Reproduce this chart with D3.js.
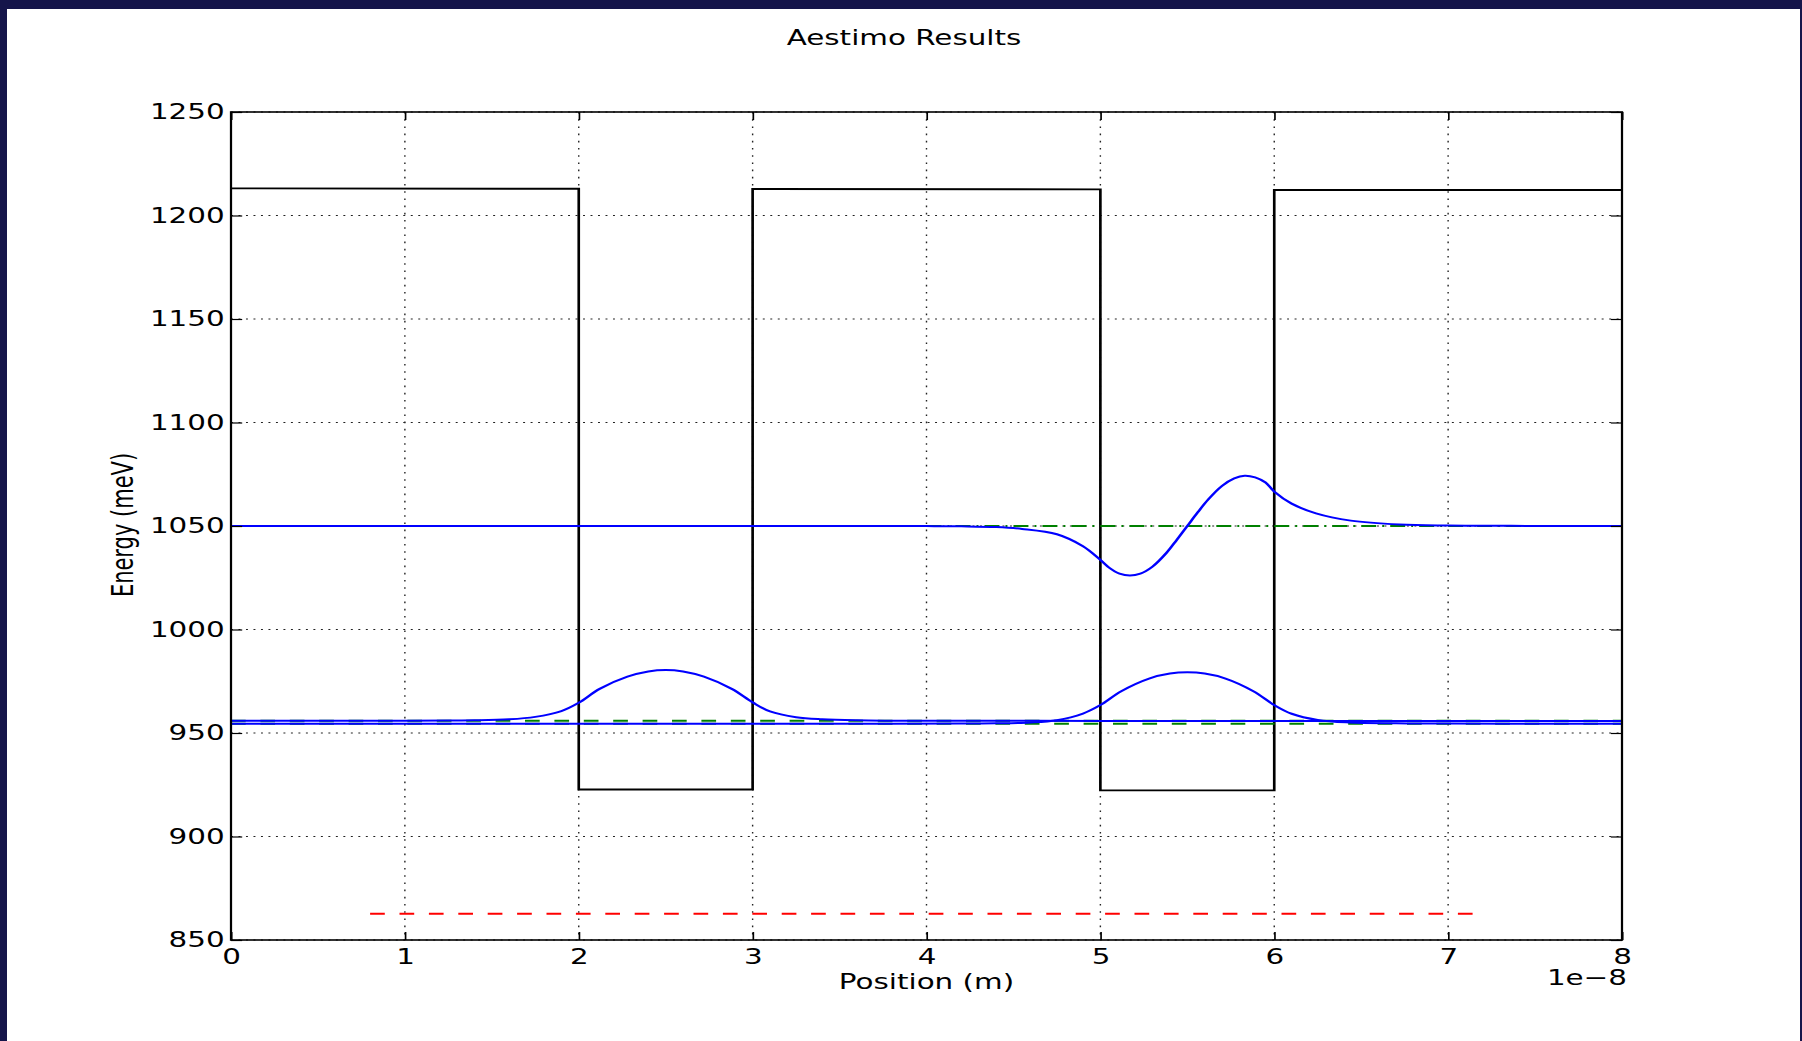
<!DOCTYPE html>
<html>
<head>
<meta charset="utf-8">
<script src="https://cdn.jsdelivr.net/npm/d3@7"></script>
<style>
html, body { margin: 0; padding: 0; background: #fff; overflow: hidden; }
text { font-family: "DejaVu Sans", sans-serif; }
</style>
</head>
<body>
<svg id="chart"></svg>
<script>
// x in units of 1e-8 m, energies in meV
const xTicks = [0, 1, 2, 3, 4, 5, 6, 7, 8];
const yTicks = [850, 900, 950, 1000, 1050, 1100, 1150, 1200, 1250];

const potentialX = [0, 2, 2, 3, 3, 5, 5, 6, 6, 8];
const potentialE = [1213.1, 1212.9, 922.7, 922.7, 1212.8, 1212.6, 922.3, 922.3, 1212.4, 1212.3];

const levels = [955.9, 954.5, 1050.0];

const stateAx = [0, 0.5, 1.0, 1.25, 1.4, 1.6, 1.75, 1.9, 2.0, 2.12, 2.28, 2.4, 2.5, 2.6, 2.72, 2.88, 3.0, 3.1, 3.25, 3.4, 3.6, 3.8, 4.0, 5.0, 6.0, 7.0, 8.0];
const stateAE = [955.9, 955.9, 955.9, 956.0, 956.1, 956.6, 957.8, 960.6, 964.6, 971.3, 977.2, 979.7, 980.4, 979.7, 977.2, 971.3, 964.8, 960.4, 957.6, 956.6, 956.1, 955.95, 955.9, 955.85, 955.8, 955.8, 955.8];

const stateBx = [0, 1.0, 2.0, 3.0, 3.8, 4.2, 4.4, 4.6, 4.75, 4.9, 5.0, 5.12, 5.28, 5.4, 5.5, 5.6, 5.72, 5.88, 6.0, 6.1, 6.25, 6.43, 6.7, 7.0, 7.5, 8.0];
const stateBE = [954.5, 954.5, 954.5, 954.5, 954.5, 954.55, 954.7, 955.1, 956.2, 959.4, 963.5, 970.2, 976.3, 978.7, 979.3, 978.7, 976.3, 970.2, 963.5, 959.3, 956.3, 955.1, 954.7, 954.55, 954.5, 954.5];

const stateCx = [0, 1.0, 2.0, 3.0, 3.6, 4.0, 4.2, 4.4, 4.55, 4.75, 4.9, 5.0, 5.05, 5.11, 5.17, 5.23, 5.3, 5.38, 5.44, 5.5, 5.56, 5.62, 5.7, 5.77, 5.83, 5.89, 5.95, 6.0, 6.1, 6.24, 6.44, 6.72, 7.0, 7.5, 8.0];
const stateCE = [1050, 1050, 1050, 1050, 1050, 1049.95, 1049.85, 1049.5, 1048.6, 1046.0, 1040.2, 1033.6, 1029.9, 1027.0, 1026.1, 1027.0, 1030.4, 1037.0, 1043.4, 1050.0, 1056.6, 1062.8, 1069.4, 1073.0, 1074.3, 1073.5, 1071.0, 1066.6, 1060.8, 1056.1, 1052.6, 1050.7, 1050.2, 1050.05, 1050.0];

const fermiX = [0.8, 7.2];
const fermiE = 862.7;

// the picture is stretched sideways, so draw in narrow units and scale x
const K = 1.4;
const fullW = 1802, fullH = 1041;
const plot = {left: 231 / K, right: 1622 / K, top: 112, bottom: 940};

const svg = d3.select('#chart')
    .attr('width', fullW)
    .attr('height', fullH);

svg.append('rect').attr('x', 0).attr('y', 0).attr('width', fullW).attr('height', fullH).attr('fill', '#fff');
svg.append('rect').attr('x', 0).attr('y', 0).attr('width', fullW).attr('height', 9).attr('fill', '#15154a');
svg.append('rect').attr('x', 0).attr('y', 0).attr('width', 7).attr('height', fullH).attr('fill', '#15154a');
svg.append('rect').attr('x', fullW - 2).attr('y', 0).attr('width', 2).attr('height', fullH).attr('fill', '#15154a');

const g = svg.append('g').attr('transform', `scale(${K},1)`);

const x = d3.scaleLinear().domain([0, 8]).range([plot.left, plot.right]);
const y = d3.scaleLinear().domain([850, 1250]).range([plot.bottom, plot.top]);

// grid
g.append('g').selectAll('line').data(xTicks).enter().append('line')
    .attr('x1', d => x(d)).attr('x2', d => x(d))
    .attr('y1', plot.top).attr('y2', plot.bottom)
    .attr('stroke', '#222').attr('stroke-width', 1)
    .attr('stroke-dasharray', '1.6,5.6');
g.append('g').selectAll('line').data(yTicks).enter().append('line')
    .attr('x1', plot.left).attr('x2', plot.right)
    .attr('y1', d => y(d)).attr('y2', d => y(d))
    .attr('stroke', '#222').attr('stroke-width', 1)
    .attr('stroke-dasharray', '1.4,3.95');

const line = d3.line().x(d => x(d[0])).y(d => y(d[1]));
const smooth = d3.line().x(d => x(d[0])).y(d => y(d[1])).curve(d3.curveCatmullRom.alpha(0.5));

// potential profile
g.append('path')
    .datum(d3.zip(potentialX, potentialE))
    .attr('d', line)
    .attr('fill', 'none').attr('stroke', '#000').attr('stroke-width', 1.9);

// energy levels
const levelDash = ['10.5,10.5', '10.5,10.5', '10.7,4.3,1.4,4.3'];
levels.forEach((e, i) => {
    g.append('path')
        .datum([[0, e], [8, e]])
        .attr('d', line)
        .attr('fill', 'none').attr('stroke', '#008000').attr('stroke-width', 2)
        .attr('stroke-dasharray', levelDash[i]);
});

// wavefunctions
[[stateAx, stateAE], [stateBx, stateBE], [stateCx, stateCE]].forEach(s => {
    g.append('path')
        .datum(d3.zip(s[0], s[1]))
        .attr('d', smooth)
        .attr('fill', 'none').attr('stroke', '#0000ff').attr('stroke-width', 2);
});

// fermi level
g.append('path')
    .datum(fermiX.map(v => [v, fermiE]))
    .attr('d', line)
    .attr('fill', 'none').attr('stroke', '#ff0000').attr('stroke-width', 2)
    .attr('stroke-dasharray', '10.5,10.5');

// axes
const styleAxis = sel => {
    sel.select('.domain').remove();
    sel.selectAll('.tick line').attr('stroke', '#000').attr('stroke-width', 1.2);
    sel.selectAll('.tick text').attr('fill', '#000').style('font-size', '21px');
};

g.append('g').attr('transform', `translate(${plot.left},0)`)
    .call(d3.axisLeft(y).tickValues(yTicks).tickSizeInner(-8).tickSizeOuter(0).tickPadding(4.5).tickFormat(d3.format('d')))
    .call(styleAxis);
g.append('g').attr('transform', `translate(${plot.right},0)`)
    .call(d3.axisRight(y).tickValues(yTicks).tickSizeInner(-8).tickSizeOuter(0).tickFormat(''))
    .call(styleAxis);
g.append('g').attr('transform', `translate(0,${plot.bottom})`)
    .call(d3.axisBottom(x).tickValues(xTicks).tickSizeInner(-8).tickSizeOuter(0).tickPadding(9).tickFormat(d3.format('d')))
    .call(styleAxis);
g.append('g').attr('transform', `translate(0,${plot.top})`)
    .call(d3.axisTop(x).tickValues(xTicks).tickSizeInner(-8).tickSizeOuter(0).tickFormat(''))
    .call(styleAxis);

g.append('rect')
    .attr('x', plot.left).attr('y', plot.top)
    .attr('width', plot.right - plot.left).attr('height', plot.bottom - plot.top)
    .attr('fill', 'none').attr('stroke', '#000').attr('stroke-width', 1.6);

// texts
g.append('text')
    .attr('x', 1627 / K).attr('y', 985)
    .attr('text-anchor', 'end').style('font-size', '21px')
    .text('1e\u22128');

g.append('text')
    .attr('x', 904 / K).attr('y', 45)
    .attr('text-anchor', 'middle').style('font-size', '21px')
    .text('Aestimo Results');

g.append('text')
    .attr('x', (plot.left + plot.right) / 2).attr('y', 989)
    .attr('text-anchor', 'middle').style('font-size', '21px')
    .text('Position (m)');

g.append('text')
    .attr('transform', `translate(${133 / K},525) rotate(-90)`)
    .attr('text-anchor', 'middle').style('font-size', '21px')
    .text('Energy (meV)');
</script>
</body>
</html>
